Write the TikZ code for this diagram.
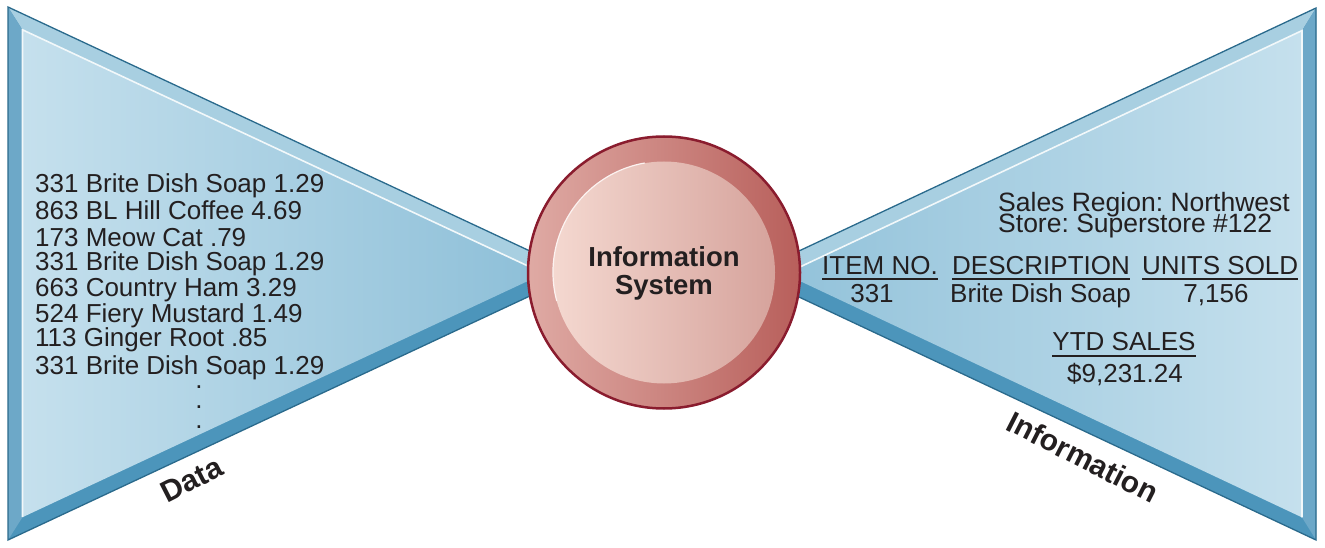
\documentclass[tikz,border=0pt]{standalone}
\usepackage{fontspec}
\setmainfont{Liberation Sans}
\frenchspacing
\usetikzlibrary{positioning}

\definecolor{ink}{HTML}{231F20}
\definecolor{bevtop}{HTML}{A8CFE1}
\definecolor{bevside}{HTML}{6DA8C8}
\definecolor{bevbot}{HTML}{4C95BB}
\definecolor{bevedge}{HTML}{2A6A8C}
\definecolor{fundark}{HTML}{8DBFD8}
\definecolor{funlight}{HTML}{C5E0ED}
\definecolor{ringlight}{HTML}{DFAAA4}
\definecolor{ringdark}{HTML}{B85F5B}
\definecolor{disclight}{HTML}{F4D8D0}
\definecolor{discdark}{HTML}{D6A39C}
\definecolor{sysborder}{HTML}{8A1C2E}

\begin{document}
\begin{tikzpicture}[x=1pt,y=-1pt]
\useasboundingbox (0,0) rectangle (1325,548);

% data funnel (left)
\begin{scope}
    \coordinate (dA) at (8,7);
    \coordinate (dB) at (8,540);
    \coordinate (dC) at (578,273.5);
    \coordinate (dAi) at (22.5,29.8);
    \coordinate (dBi) at (22.5,517.2);
    \coordinate (dCi) at (544,273.5);
    \fill[bevbot] (dA) -- (dB) -- (dC) -- cycle;
    \fill[bevtop] (dA) -- (dC) -- (dCi) -- (dAi) -- cycle;
    \fill[bevside] (dA) -- (dAi) -- (dBi) -- (dB) -- cycle;
    \shade[left color=funlight, right color=fundark] (dAi) -- (dBi) -- (dCi) -- cycle;
    \draw[white!85!bevtop, line width=1.6] (dBi) -- (dAi) -- (dCi);
    \draw[bevedge, line width=1.3, line join=miter] (dA) -- (dB) -- (dC) -- cycle;
\end{scope}

% information funnel (right)
\begin{scope}
    \coordinate (iD) at (1316,8);
    \coordinate (iE) at (1316,540);
    \coordinate (iF) at (750,274);
    \coordinate (iDi) at (1302,30.6);
    \coordinate (iEi) at (1302,517.4);
    \coordinate (iFi) at (785,274);
    \fill[bevbot] (iD) -- (iE) -- (iF) -- cycle;
    \fill[bevtop] (iD) -- (iF) -- (iFi) -- (iDi) -- cycle;
    \fill[bevside] (iD) -- (iDi) -- (iEi) -- (iE) -- cycle;
    \shade[left color=fundark!90!funlight, right color=funlight] (iFi) -- (iDi) -- (iEi) -- cycle;
    \draw[white!85!bevtop, line width=1.6] (iFi) -- (iDi) -- (iEi);
    \draw[bevedge, line width=1.3, line join=miter] (iD) -- (iE) -- (iF) -- cycle;
\end{scope}

% information system disc
\node[circle, minimum size=272, inner sep=0, draw=sysborder, line width=2.5,
      left color=ringlight, right color=ringdark] (sys) at (664,272.5) {};
\node[circle, minimum size=222, inner sep=0,
      left color=disclight, right color=discdark] (disc) at (sys.center) {};
\draw[white!70!disclight, line width=1.2] (disc.100) arc[start angle=-100, end angle=-195, radius=111];
\node[ink, align=center, font=\fontsize{27.5}{28}\selectfont\bfseries] (systxt) at (664,273) {Information\\System};

\begin{scope}[every node/.style={inner sep=0, text=ink, font=\fontsize{26}{26}\selectfont}]
    % raw data lines
    \foreach \y/\t [count=\i] in {193/331 Brite Dish Soap 1.29, 219.5/863 BL Hill Coffee 4.69,
        246/173 Meow Cat .79, 270/331 Brite Dish Soap 1.29, 296/663 Country Ham 3.29,
        322.5/524 Fiery Mustard 1.49, 346.5/113 Ginger Root .85, 374/331 Brite Dish Soap 1.29}
        \node[anchor=base west] (row\i) at (35,\y) {\t};
    \node[anchor=base] (dot1) at (199,388) {.};
    \node[anchor=base] (dot2) at (199,408) {.};
    \node[anchor=base] (dot3) at (199,428.5) {.};

    % report
    \node[anchor=base west, font=\fontsize{26.5}{26}\selectfont] (region) at (998,212) {Sales Region: Northwest};
    \node[anchor=base west, font=\fontsize{26.5}{26}\selectfont] (store) at (998,233) {Store: Superstore \#122};
    \node[anchor=base west] (hdnum) at (822,274) {ITEM NO.};
    \node[anchor=base west] (hddesc) at (952,274) {DESCRIPTION};
    \node[anchor=base west] (hdunits) at (1142,274) {UNITS SOLD};
    \node[anchor=base] (valnum) at (872,302) {331};
    \node[anchor=base west] (valdesc) at (950,302) {Brite Dish Soap};
    \node[anchor=base] (valunits) at (1216,302) {7,156};
    \node[anchor=base] (hdytd) at (1124,350) {YTD SALES};
    \node[anchor=base] (valytd) at (1125,382) {\$9,231.24};
\end{scope}

\begin{scope}[uline/.style={draw=ink, line width=2.2}]
    \draw[uline] ([yshift=-5pt]hdnum.base west) -- ([yshift=-5pt]hdnum.base east);
    \draw[uline] ([yshift=-5pt]hddesc.base west) -- ([yshift=-5pt]hddesc.base east);
    \draw[uline] ([yshift=-5pt]hdunits.base west) -- ([yshift=-5pt]hdunits.base east);
    \draw[uline] ([yshift=-6pt]hdytd.base west) -- ([yshift=-6pt]hdytd.base east);
\end{scope}

% funnel labels
\begin{scope}[every node/.style={inner sep=0, text=ink, font=\fontsize{30}{30}\selectfont\bfseries}]
    \node[rotate=27] (datalbl) at (192,480) {Data};
    \node[rotate=-27] (infolbl) at (1083,457) {Information};
\end{scope}
\end{tikzpicture}
\end{document}
